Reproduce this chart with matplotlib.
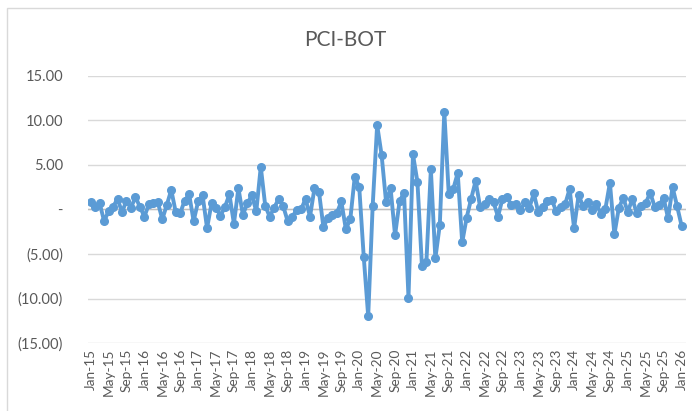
import numpy as np
import pandas as pd
import matplotlib
matplotlib.use("Agg")
import matplotlib.pyplot as plt
from matplotlib.patches import Rectangle
from matplotlib.ticker import FuncFormatter

# monthly series, Jan-15 .. Jan-26
months = pd.date_range("2015-01-01", "2026-01-01", freq="MS")
pci_bot = [
    0.8, 0.3, 0.7, -1.3, -0.2, 0.3, 1.2, -0.3, 1.0, 0.2,
    1.4, 0.3, -0.8, 0.6, 0.7, 0.8, -1.1, 0.5, 2.2, -0.3,
    -0.4, 1.0, 1.7, -1.3, 0.9, 1.6, -2.1, 0.7, 0.2, -0.7,
    0.3, 1.7, -1.6, 2.4, -0.6, 0.7, 1.6, -0.2, 4.8, 0.4,
    -0.8, 0.2, 1.2, 0.4, -1.3, -0.8, -0.1, 0.0, 1.2, -0.8,
    2.4, 2.0, -2.0, -0.9, -0.6, -0.4, 0.9, -2.2, -1.1, 3.7,
    2.5, -5.3, -12.0, 0.4, 9.5, 6.1, 0.8, 2.4, -2.9, 0.9,
    1.9, -9.9, 6.2, 3.1, -6.3, -5.9, 4.5, -5.5, -1.7, 11.0,
    1.7, 2.3, 4.1, -3.7, -0.9, 1.2, 3.2, 0.3, 0.6, 1.2,
    0.8, -0.8, 1.2, 1.4, 0.5, 0.6, -0.1, 0.8, 0.2, 1.8,
    -0.3, 0.3, 1.0, 1.1, -0.2, 0.3, 0.6, 2.3, -2.1, 1.6,
    0.4, 0.8, -0.1, 0.6, -0.5, 0.1, 3.0, -2.8, 0.2, 1.3,
    -0.3, 1.2, -0.4, 0.4, 0.7, 1.9, 0.3, 0.5, 1.3, -1.0,
    2.5, 0.4, -1.8,
]
month_labels = [m.strftime("%b-%y") for m in months]
y_ticks = [-15, -10, -5, 0, 5, 10, 15]

plt.rcParams['font.family'] = ['Lato', 'DejaVu Sans']
text_col = '#595959'
grid_col = '#D9D9D9'
line_col = '#5B9BD5'

fig = plt.figure(figsize=(6.92, 4.11), dpi=100)
# chart-area border
fig.patches.append(Rectangle((7 / 692, -0.1), 1.2, 1 - 8 / 411 + 0.1,
                             transform=fig.transFigure, fill=False,
                             edgecolor=grid_col, linewidth=1.0))

ax = fig.add_axes([88 / 692, 1 - 343 / 411, (686 - 88) / 692, (343 - 76) / 411])
x = np.arange(len(months))
ax.plot(x, pci_bot, color=line_col, linewidth=2.8, marker='o',
        markersize=5.5, markerfacecolor=line_col, markeredgecolor=line_col,
        zorder=3)

ax.set_xlim(-0.6, 133.0)
ax.set_ylim(-15, 15)
ax.set_yticks(y_ticks)


def acct(v, pos):
    if v == 0:
        return '-'
    if v < 0:
        return '({:.2f})'.format(-v)
    return '{:.2f}'.format(v)


ax.yaxis.set_major_formatter(FuncFormatter(acct))
ax.grid(axis='y', color=grid_col, linewidth=1.0)
ax.set_axisbelow(True)
ax.axhline(0, color='#BFBFBF', linewidth=1.0, zorder=1)

ax.set_xticks(x[::4])
ax.set_xticklabels(month_labels[::4], rotation=90)
ax.tick_params(axis='x', length=0, pad=4, labelsize=9.8, labelcolor=text_col)
ax.tick_params(axis='y', length=0, pad=18, labelsize=10.5, labelcolor=text_col)
for s in ax.spines.values():
    s.set_visible(False)

fig.text(345 / 692, 1 - 40 / 411, 'PCI-BOT', ha='center', va='center',
         fontsize=15, color=text_col)

fig.savefig('out.png', dpi=100)
